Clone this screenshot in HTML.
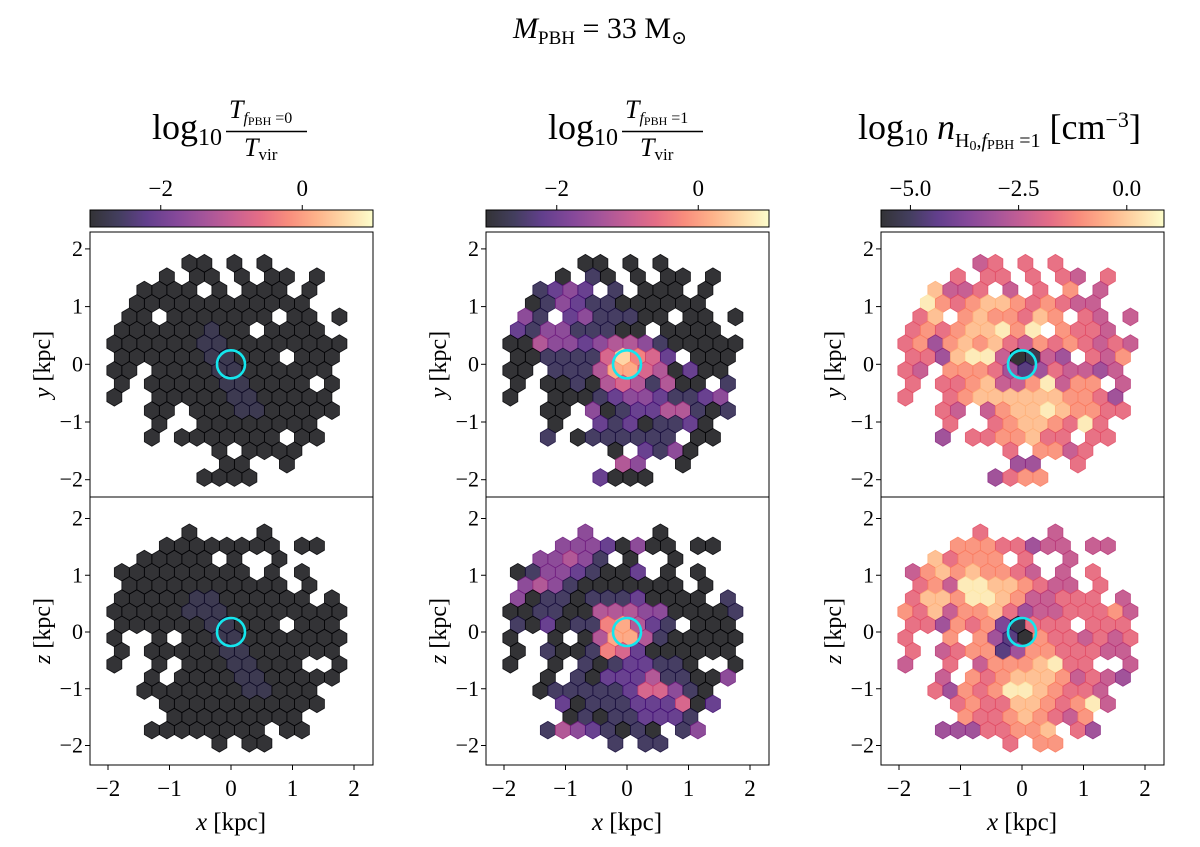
<!DOCTYPE html>
<html><head><meta charset="utf-8"><title>PBH hexbin maps</title>
<style>
html,body{margin:0;padding:0;background:#fff;}
svg{display:block;font-family:"Liberation Serif","DejaVu Serif",serif;}
</style></head>
<body>
<svg id="fig" width="1200" height="847" viewBox="0 0 1200 847" xmlns="http://www.w3.org/2000/svg">
  <defs>
    <linearGradient id="magmaGrad" x1="0" y1="0" x2="1" y2="0">
      <stop offset="0" stop-color="#000004"/><stop offset="0.1" stop-color="#140e36"/>
      <stop offset="0.2" stop-color="#3b0f70"/><stop offset="0.3" stop-color="#641a80"/>
      <stop offset="0.4" stop-color="#8c2981"/><stop offset="0.5" stop-color="#b73779"/>
      <stop offset="0.6" stop-color="#de4968"/><stop offset="0.7" stop-color="#f7705c"/>
      <stop offset="0.8" stop-color="#fe9f6d"/><stop offset="0.9" stop-color="#fecf92"/>
      <stop offset="1" stop-color="#fcfdbf"/>
    </linearGradient>
  </defs>
  <text x="600" y="38" text-anchor="middle" font-size="30"><tspan font-style="italic">M</tspan><tspan font-size="19" dy="6">PBH</tspan><tspan dy="-6"> = 33 M</tspan><tspan font-size="19" dy="6">⊙</tspan></text>

  <g>
    <text x="152" y="139" font-size="36">log<tspan font-size="24" dy="6">10</tspan></text>
    <text x="229" y="118" font-size="26" font-style="italic">T<tspan font-size="16" dy="5">f</tspan><tspan font-size="12" font-style="normal" dy="2">PBH</tspan><tspan font-size="16" font-style="normal" dy="-2"> =0</tspan></text>
    <line x1="226" y1="131.5" x2="307" y2="131.5" stroke="#000" stroke-width="1.5"/>
    <text x="244" y="156" font-size="26" font-style="italic">T<tspan font-size="17" font-style="normal" dy="4">vir</tspan></text>
  </g>
  <g>
    <text x="548" y="139" font-size="36">log<tspan font-size="24" dy="6">10</tspan></text>
    <text x="625" y="118" font-size="26" font-style="italic">T<tspan font-size="16" dy="5">f</tspan><tspan font-size="12" font-style="normal" dy="2">PBH</tspan><tspan font-size="16" font-style="normal" dy="-2"> =1</tspan></text>
    <line x1="622" y1="131.5" x2="703" y2="131.5" stroke="#000" stroke-width="1.5"/>
    <text x="640" y="156" font-size="26" font-style="italic">T<tspan font-size="17" font-style="normal" dy="4">vir</tspan></text>
  </g>
  <g>
    <text x="858" y="139" font-size="36">log<tspan font-size="24" dy="6">10</tspan><tspan dy="-6" font-style="italic"> n</tspan><tspan font-size="20" dy="8">H</tspan><tspan font-size="14" dy="3">0</tspan><tspan font-size="20" dy="-3">,</tspan><tspan font-size="20" font-style="italic">f</tspan><tspan font-size="14" dy="2">PBH</tspan><tspan font-size="20" dy="-2"> =1</tspan><tspan dy="-8"> [cm</tspan><tspan font-size="22" dy="-12">−3</tspan><tspan dy="12">]</tspan></text>
  </g>
  <g id="plots"></g>
</svg>
<script>
// ---- data: hex rows (each char = one hex, step of 2 lattice columns; '.' = empty) ----
const topStarts = [12,9,6,5,4,3,2,3,2,3,2,7,8,7,16,17,14];
const botStarts = [12,9,6,3,4,3,2,3,2,3,2,7,6,9,10,7,16];

const p1Top = ["00.0.0","0.00.0.00.0","0000.0.000.0","000000000000","00.0000000.00.0","000000100.0000","0000001100000000","00000011000.000","00.000011000000","0.00000110000.0","0..000001100000","00.0001100000","0..00000000","0.0000000.00","0.0000","00..0","0000"];
const p1Bot = ["0....0","00000000.00","00000.0..0","000000000.0.0","00000000000.0","0000011000000.0","0000011100000000","00000011000.000","0..0.00110000000","0.0000011000000","0..0.00011000..0","0.00001100000","000000011000","00000000000","000000000","00000000.00","0.00"];

const p2Top = ["00.0.0","0.10.0.00.0","1232.1.000.0","013211000000","31.2311100.00.0","213311100.0000","0043323443100000","00111158652.000","00.111477540200","0.00104541400.1","0..000123321123","00.3012244101","0..21201120","1.0111111.00","0.2130","43..0","2000"];
const p2Bot = ["3....0","33320300.00","33431.0..0","013321002.0.0","34310000000.0","3011011120000.1","0011004443300001","10201167421.000","0..0.04774100000","0.1001652000000","0..0.10122110..0","0.10222411003","011111255310","20111222502","010112221","14321010.13","1.11"];

const p3Top = ["56.6.6","6.66.6.65.6","8556.5.6.7.5","976788767655","68.7877687.65.5","676788979.7665","6747878657676565","66489950154.657","65.777642465545","6.66785579577.5","6..678888887764","65.5788987766","6..67887696","4.6677866.66","6.7756","44..6","4677"];
const p3Bot = ["6....5","77766455.55","86777.6..5","578787765.5.6","67599887655.6","6887998755666.5","7685778645566675","66476731666.666","6..7.74207665656","6.5677247766655","5..6.57778966..5","5.76788875654","647679987665","67668876795","766787657","44466778.64","6.77"];

// axis ticks and colorbar ranges
const xTicks = [-2,-1,0,1,2];
const xTickLabels = ["−2","−1","0","1","2"];
const yTicks = [2,1,0,-1,-2];
const yTickLabels = ["2","1","0","−1","−2"];
const cbarRanges = [[-3,1],[-3,1],[-5.68,0.86]];
const cbarTicks = [[-2,0],[-2,0],[-5,-2.5,0]];
const cbarTickLabels = [["−2","0"],["−2","0"],["−5.0","−2.5","0.0"]];
const rowLabels = ["y","z"];
</script>
<script>
const NS = "http://www.w3.org/2000/svg";
const plots = document.getElementById("plots");
const magmaStops = [[0,"#000004"],[0.1,"#140e36"],[0.2,"#3b0f70"],[0.3,"#641a80"],[0.4,"#8c2981"],[0.5,"#b73779"],[0.6,"#de4968"],[0.7,"#f7705c"],[0.8,"#fe9f6d"],[0.9,"#fecf92"],[1,"#fcfdbf"]];
function hex2rgb(h){return [parseInt(h.substr(1,2),16),parseInt(h.substr(3,2),16),parseInt(h.substr(5,2),16)];}
function magma(t){
  t=Math.max(0,Math.min(1,t));
  for(let i=1;i<magmaStops.length;i++){
    if(t<=magmaStops[i][0]){
      const a=magmaStops[i-1],b=magmaStops[i];const f=(t-a[0])/(b[0]-a[0]);
      const ca=hex2rgb(a[1]),cb=hex2rgb(b[1]);
      return "rgb("+ca.map((v,k)=>Math.round(v+(cb[k]-v)*f)).join(",")+")";
    }
  }
  return magmaStops[magmaStops.length-1][1];
}
// digit -> colormap position, per column
function digitToT(j,d){
  if(j===0) return d/9*0.6;
  if(j===2) return Math.max(0,d/9-0.05);
  return d/9;
}
function mk(tag,attrs,parent){const e=document.createElementNS(NS,tag);for(const k in attrs)e.setAttribute(k,attrs[k]);(parent||plots).appendChild(e);return e;}

const lefts=[90,486,881];
const X0=-2.141, DXC=0.122, Y0=1.75, DYR=0.232;
const panels=[[p1Top,p1Bot],[p2Top,p2Bot],[p3Top,p3Bot]];
const frames=[[232,497,364.3,57.7],[497,765,632,56.75]];

for(let j=0;j<3;j++){
  const L=lefts[j];
  const xs=x=>L+141+61.5*x;
  const cb=mk("g",{});
  
  
  mk("rect",{x:L,y:210,width:283,height:17,fill:"url(#magmaGrad)","fill-opacity":0.8,stroke:"#000","stroke-width":1},cb);
  const [cmin,cmax]=cbarRanges[j];
  const cs=v=>L+283*(v-cmin)/(cmax-cmin);
  cbarTicks[j].forEach((v,k)=>{
    mk("line",{x1:cs(v),x2:cs(v),y1:210,y2:205,stroke:"#000","stroke-width":1},cb);
    const t=mk("text",{x:cs(v),y:196,"text-anchor":"middle","font-size":23},cb);
    
    
    t.textContent=cbarTickLabels[j][k];
  });
  for(let p=0;p<2;p++){
    const [top,bot,y0px,ysc]=frames[p];
    const ys=y=>y0px-ysc*y;
    const g=mk("g",{});
    
    
    mk("rect",{x:L,y:top,width:283,height:bot-top,fill:"#fff"},g);
    const rows=panels[j][p], starts=p===0?topStarts:botStarts;
    const w=DXC*61.5, h=(2*DYR/3)*ysc;
    rows.forEach((s,r)=>{
      for(let k=0;k<s.length;k++){
        const ch=s[k]; if(ch===".")continue;
        const c=starts[r]+2*k;
        const cx=xs(X0+DXC*c), cy=ys(Y0-DYR*r);
        const col=magma(digitToT(j,parseInt(ch)));
        const pts=[[cx,cy-h],[cx+w,cy-h/2],[cx+w,cy+h/2],[cx,cy+h],[cx-w,cy+h/2],[cx-w,cy-h/2]].map(q=>q[0].toFixed(2)+","+q[1].toFixed(2)).join(" ");
        const hx=mk("polygon",{points:pts,fill:col,"fill-opacity":0.8,stroke:col,"stroke-opacity":0.85,"stroke-width":0.8},g);
        
        
      }
    });
    const circ=mk("circle",{cx:xs(0),cy:ys(0),r:14,fill:"none",stroke:"#14e6ee","stroke-width":2.6},g);
    
    
    mk("rect",{x:L,y:top,width:283,height:bot-top,fill:"none",stroke:"#000","stroke-width":1},g);
    yTicks.forEach((v,k)=>{
      mk("line",{x1:L,x2:L-5,y1:ys(v),y2:ys(v),stroke:"#000","stroke-width":1},g);
      const t=mk("text",{x:L-7,y:ys(v)+7,"text-anchor":"end","font-size":22},g);
      
      
      t.textContent=yTickLabels[k];
    });
    if(p===1){
      xTicks.forEach((v,k)=>{
        mk("line",{x1:xs(v),x2:xs(v),y1:bot,y2:bot+5,stroke:"#000","stroke-width":1},g);
        const t=mk("text",{x:xs(v),y:796,"text-anchor":"middle","font-size":23},g);
        
        
        t.textContent=xTickLabels[k];
      });
    }
    const yt=mk("text",{x:0,y:0,"text-anchor":"middle","font-size":24,transform:"translate("+(L-40)+","+((top+bot)/2)+") rotate(-90)"},g);
    
    
    yt.innerHTML='<tspan font-style="italic">'+rowLabels[p]+'</tspan> [kpc]';
  }
  const xt=mk("text",{x:L+141,y:830,"text-anchor":"middle","font-size":25});
  
  
  xt.innerHTML='<tspan font-style="italic">x</tspan> [kpc]';
}
</script>
</body></html>
